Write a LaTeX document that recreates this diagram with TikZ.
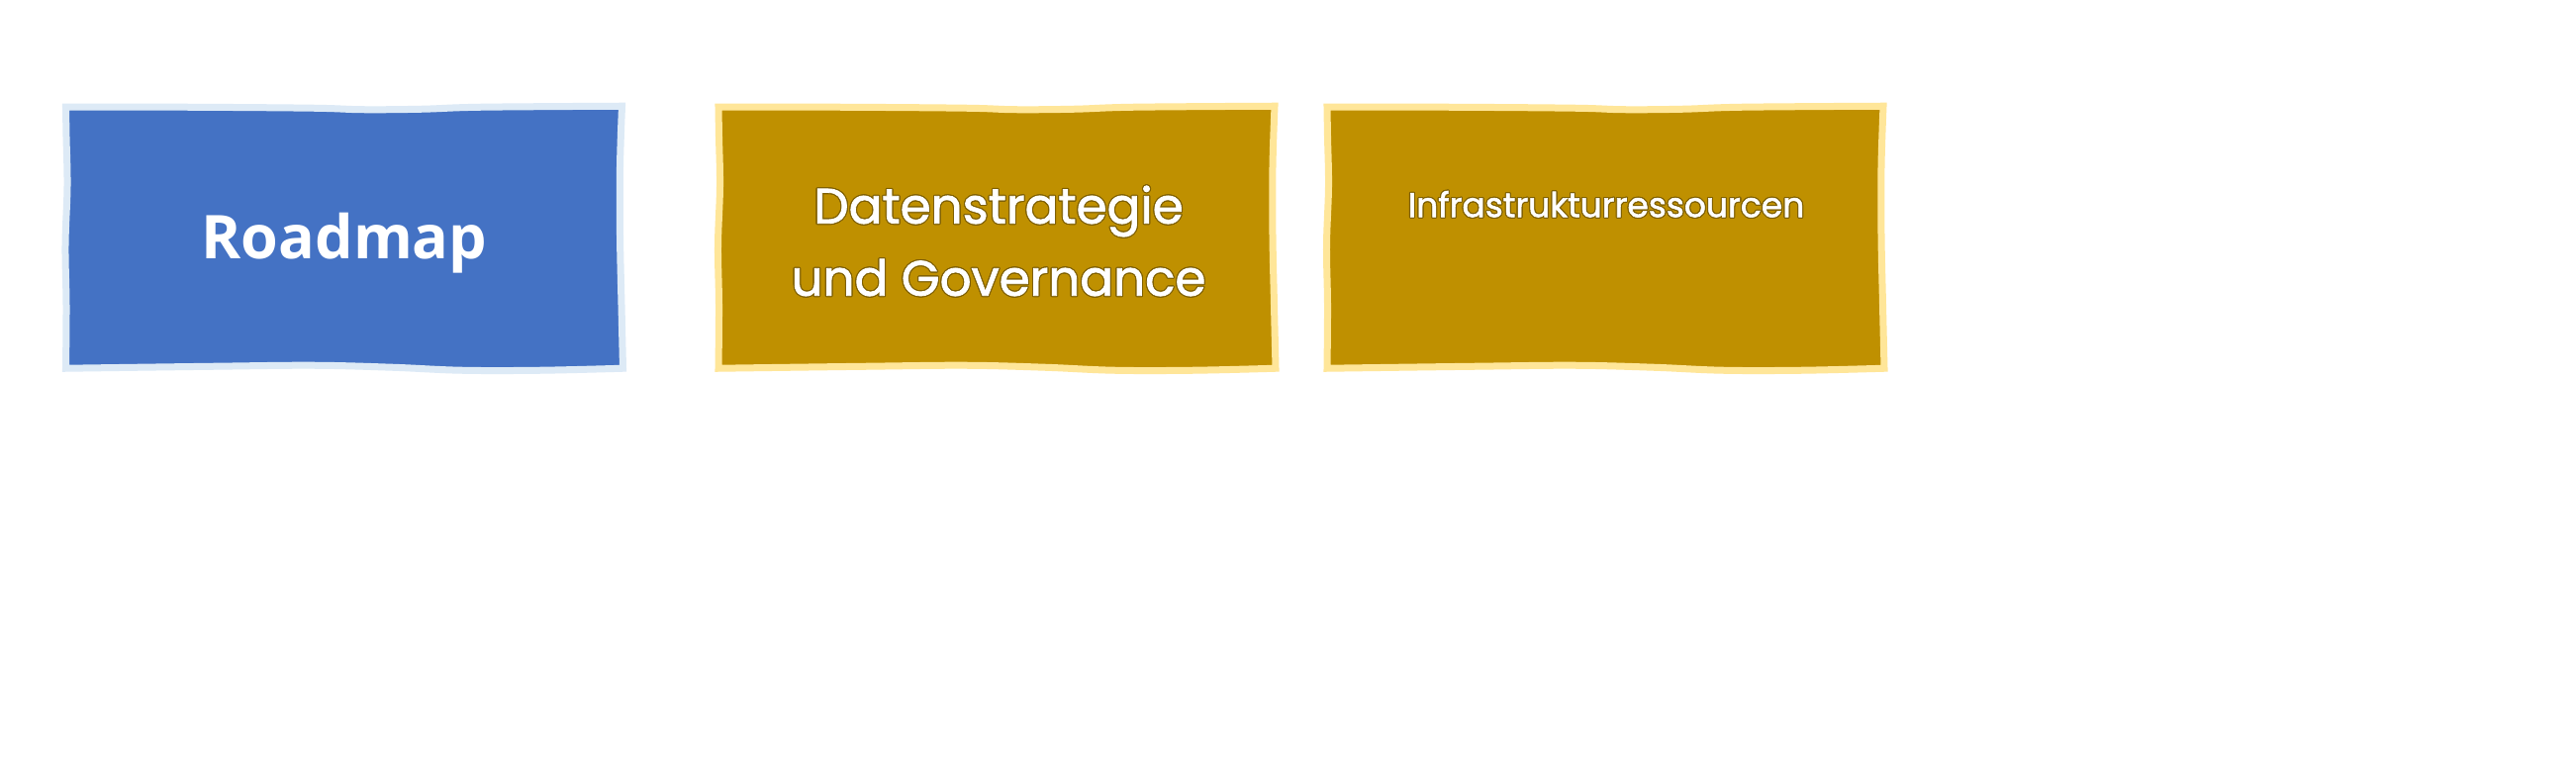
\documentclass[tikz,border=0pt]{standalone}
\usepackage{fontspec}
\usepackage{contour}
\newfontfamily\roadfont{Open Sans}
\newfontfamily\popfont[FakeBold=1.6]{Poppins}
\definecolor{bluefill}{HTML}{4472C4}
\definecolor{blueedge}{HTML}{DDEAF6}
\definecolor{goldfill}{HTML}{BF9000}
\definecolor{goldedge}{HTML}{FFE699}
\definecolor{goldline}{HTML}{7F6000}
\contourlength{1.1pt}
\newcommand\wobblycard[3]{%
  \begin{scope}[shift={(#1.north west)}]
    \filldraw[fill=#2, draw=#3, line width=7pt, line join=miter]
      plot[smooth, tension=0.6] coordinates {(0,0) (120,0) (250,-1) (300,-2.5) (360,-2) (420,0) (562,1)}
      -- plot[smooth, tension=0.6] coordinates {(562,1) (560,-60) (560,-130) (561.5,-200) (563,-264)}
      -- plot[smooth, tension=0.6] coordinates {(563,-264) (480,-266) (400,-266) (330,-263) (250,-261) (150,-262) (0,-264)}
      -- plot[smooth, tension=0.6] coordinates {(0,-264) (0.5,-200) (-0.5,-140) (1.5,-80) (0.5,-30) (0,0)}
      -- cycle;
  \end{scope}}
\tikzset{
  card/.style={minimum width=562pt, minimum height=264pt, inner sep=0pt, outer sep=0pt},
  bluetext/.style={text=white, font=\roadfont\bfseries\fontsize{61}{70}\selectfont, inner sep=0pt},
  goldtext/.style={text=white, font=\popfont\fontsize{50}{73}\selectfont, align=center, inner sep=0pt},
  smalltext/.style={text=white, font=\popfont\fontsize{34.5}{42}\selectfont, inner sep=0pt}
}
\begin{document}
\begin{tikzpicture}[x=1pt,y=1pt]
\useasboundingbox[fill=white] (0,0) rectangle (2603,767);
\node[card] (rm)  at (347.5,526.75) {};
\node[card] (ds)  at (1007,526.75) {};
\node[card] (inf) at (1622,526.75) {};
\wobblycard{rm}{bluefill}{blueedge}
\wobblycard{ds}{goldfill}{goldedge}
\wobblycard{inf}{goldfill}{goldedge}
\node[bluetext, anchor=base] (rmlabel) at (348,505) {Roadmap};
\node[goldtext] (dslabel) at (1009,523) {\contour{goldline}{Datenstrategie}\\\contour{goldline}{und Governance}};
\node[smalltext, anchor=base] (inflabel) at (1623,547.7) {\contour{goldline}{Infrastrukturressourcen}};
\end{tikzpicture}
\end{document}
